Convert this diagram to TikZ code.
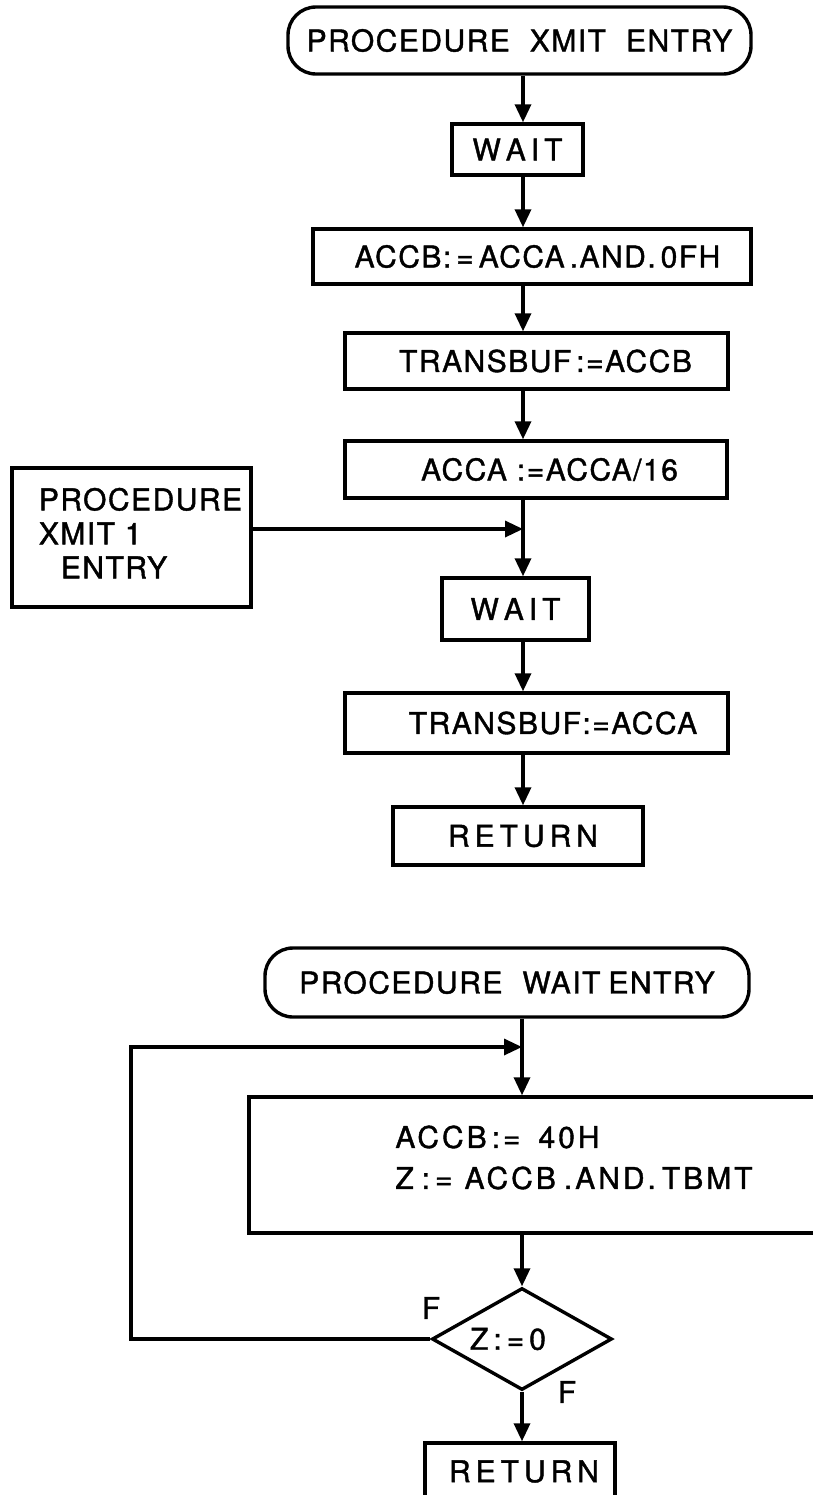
\documentclass[tikz,border=0pt]{standalone}
\usepackage{fontspec}
\setmainfont{TeX Gyre Heros}[LetterSpace=5,FakeBold=1.3]
\usetikzlibrary{arrows.meta,shapes.geometric}
\begin{document}
\begin{tikzpicture}[x=0.5pt,y=-0.5pt,
  every node/.style={font=\fontsize{15pt}{17pt}\selectfont},
  box/.style={draw,line width=1.7pt,inner sep=0pt},
  term/.style={box,rounded corners=14pt},
  arr/.style={line width=1.7pt,-{Triangle[length=9pt,width=8pt]}},
  ln/.style={line width=1.7pt}]
\clip (0,0) rectangle (813,1495);
\fill[white] (0,0) rectangle (813,1495);
\coordinate (sp) at (523,0);
\coordinate (sq) at (522,0);
% upper chart
\node[term,minimum width=231.5pt,minimum height=33.5pt] (t1) at (519.5,40.5) {PROCEDURE\hspace{10pt}XMIT\hspace{10pt}ENTRY};
\node[box,minimum width=65.5pt,minimum height=25.5pt] (w1) at (517.5,149.5) {W\,A\,I\,T};
\node[box,minimum width=219pt,minimum height=27.5pt] (and) at (532,256.5) {\hspace*{5.5pt}ACCB:\,=\,ACCA\,.AND.\,0FH};
\node[box,minimum width=191.5pt,minimum height=28pt] (tb1) at (536.5,361) {\hspace*{9pt}TRANSBUF\,:=ACCB};
\node[box,minimum width=191pt,minimum height=28.5pt] (acca) at (536,469.5) {\hspace*{13.5pt}ACCA\,\,:=ACCA/16};
\node[box,minimum width=119.5pt,minimum height=69.5pt] (x1) at (131.5,537.5) {\hspace*{9pt}\begin{tabular}{@{}l@{}}PROCEDURE\\XMIT 1\\\hspace*{11pt}ENTRY\end{tabular}};
\node[box,minimum width=73.5pt,minimum height=31pt] (w2) at (515.5,609) {W\,A\,I\,T};
\node[box,minimum width=191.5pt,minimum height=30pt] (tb2) at (536.5,723) {\hspace*{16.5pt}TRANSBUF:=ACCA};
\node[box,minimum width=125pt,minimum height=29pt] (r1) at (518,836) {\hspace*{5pt}R\,E\,T\,U\,R\,N};
\draw[arr] (t1.south -| sp) -- (w1.north -| sp);
\draw[arr] (w1.south -| sp) -- (and.north -| sp);
\draw[arr] (and.south -| sp) -- (tb1.north -| sp);
\draw[arr] (tb1.south -| sp) -- (acca.north -| sp);
\draw[arr] (acca.south -| sp) -- (w2.north -| sp);
\draw[arr] (w2.south -| sp) -- (tb2.north -| sp);
\draw[arr] (tb2.south -| sp) -- (r1.north -| sp);
\draw[arr] ([yshift=4.25pt]x1.east) -- ([yshift=4.25pt]x1.east -| sp);
% lower chart
\node[term,minimum width=242pt,minimum height=34.5pt] (t2) at (507,982.5) {PROCEDURE\hspace{10pt}WAIT\hspace{4pt}ENTRY};
\node[box,minimum width=293pt,minimum height=68pt] (big) at (542,1165) {};
\node[anchor=west,align=left,inner sep=0pt,font=\fontsize{15pt}{20.5pt}\selectfont\addfontfeature{LetterSpace=10}] (wtxt) at (395,1157.5) {ACCB\,:=\hspace{9pt}40H\\Z\hspace{4pt}:\,=\hspace{6pt}ACCB\hspace{4pt}.AND.\hspace{3pt}TBMT};
\node[box,diamond,aspect=1.76,minimum width=90pt,minimum height=51pt] (dia) at (522,1339) {Z\,:\,=\,0\hspace*{14pt}};
\node[box,minimum width=95pt,minimum height=28.5pt] (r2) at (520,1471.5) {\hspace*{4pt}R\,E\,T\,U\,R\,N};
\node (f1) at (431,1308) {F};
\node (f2) at (567,1392) {F};
\coordinate (lp) at (131,1047);
\draw[arr] (t2.south -| sq) -- (big.north -| sq);
\draw[arr] (big.south -| sq) -- (dia.north);
\draw[arr] (dia.south) -- (r2.north -| dia.south);
\draw[arr] (dia.west) -| (lp) -- (lp -| sq);
\end{tikzpicture}
\end{document}
